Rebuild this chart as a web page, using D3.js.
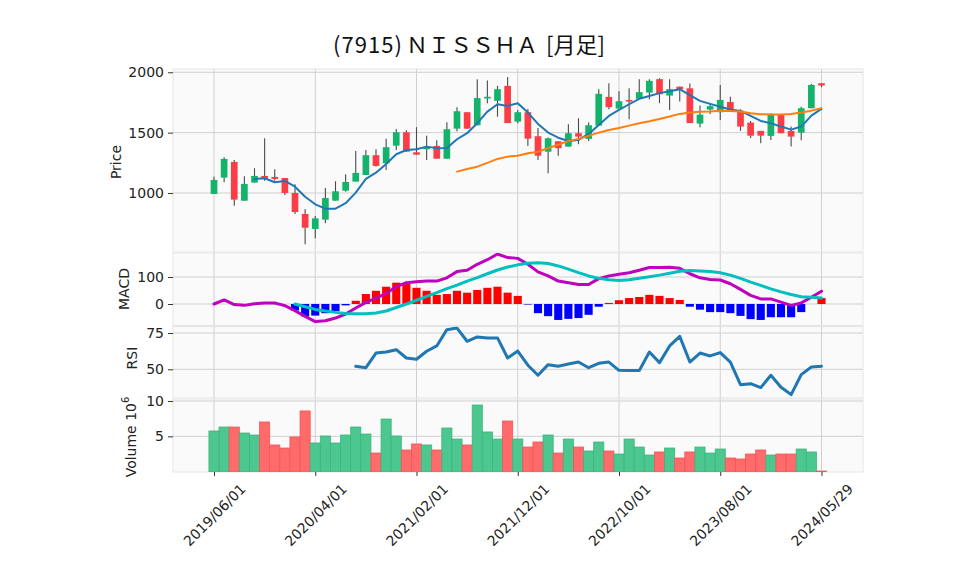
<!DOCTYPE html>
<html><head><meta charset="utf-8">
<script src="https://cdn.jsdelivr.net/npm/d3@7"></script>
<style>body{margin:0;background:#fff}</style>
</head><body>
<svg id="c" width="958" height="575"></svg>
<script>
const titleParts = ["(7915)", "ＮＩＳＳＨＡ", "[月足]"];
const dates = ["2019/06/01","2019/07/01","2019/08/01","2019/09/01","2019/10/01","2019/11/01","2019/12/01",
"2020/01/01","2020/02/01","2020/03/01","2020/04/01","2020/05/01","2020/06/01","2020/07/01","2020/08/01","2020/09/01","2020/10/01","2020/11/01","2020/12/01",
"2021/01/01","2021/02/01","2021/03/01","2021/04/01","2021/05/01","2021/06/01","2021/07/01","2021/08/01","2021/09/01","2021/10/01","2021/11/01","2021/12/01",
"2022/01/01","2022/02/01","2022/03/01","2022/04/01","2022/05/01","2022/06/01","2022/07/01","2022/08/01","2022/09/01","2022/10/01","2022/11/01","2022/12/01",
"2023/01/01","2023/02/01","2023/03/01","2023/04/01","2023/05/01","2023/06/01","2023/07/01","2023/08/01","2023/09/01","2023/10/01","2023/11/01","2023/12/01",
"2024/01/01","2024/02/01","2024/03/01","2024/04/01","2024/05/01","2024/05/29"];
const tickIdx = [0,10,20,30,40,50,60];
const opens  = [992,1127,1257,936,1086,1141,1133,1124,1000,826,702,779,936,1019,1094,1149,1313,1246,1392,1503,1337,1362,1390,1284,1533,1669,1561,1783,1763,1887,1591,1669,1470,1342,1428,1384,1495,1448,1558,1796,1699,1771,1780,1832,1943,1807,1881,1867,1575,1691,1669,1754,1682,1583,1514,1473,1647,1514,1500,1702,1909];
const highs  = [1135,1296,1274,1138,1205,1453,1196,1124,1072,865,809,1041,1097,1155,1348,1356,1362,1450,1530,1520,1545,1475,1437,1586,1710,1669,1943,1932,1887,1960,1688,1696,1539,1460,1430,1570,1619,1586,1860,1909,1843,1868,1943,1943,1951,1943,1881,1906,1724,1744,1895,1798,1694,1597,1514,1661,1647,1550,1715,1903,1909];
const lows   = [992,1089,895,936,1086,1102,1102,983,826,575,624,749,936,1010,1094,1149,1218,1191,1356,1342,1317,1274,1284,1284,1511,1533,1561,1744,1632,1579,1578,1390,1274,1163,1309,1384,1404,1431,1558,1694,1699,1611,1780,1777,1744,1688,1757,1579,1545,1655,1605,1682,1514,1456,1412,1439,1495,1384,1437,1702,1876];
const closes = [1108,1282,945,1075,1141,1122,1116,1000,842,712,790,958,1014,1091,1166,1313,1224,1379,1503,1342,1317,1379,1284,1528,1677,1533,1786,1797,1860,1579,1669,1450,1309,1453,1371,1495,1467,1561,1821,1711,1760,1757,1835,1929,1818,1860,1860,1579,1649,1719,1771,1682,1550,1475,1475,1647,1495,1467,1702,1895,1890];
const ma5 = [null,null,null,null,1116,1122,1089,1100,1052,969,906,870,870,915,1003,1116,1168,1240,1321,1356,1362,1384,1371,1373,1445,1495,1578,1674,1735,1721,1744,1666,1572,1500,1458,1431,1439,1489,1564,1638,1688,1735,1780,1804,1827,1843,1860,1810,1763,1738,1715,1691,1680,1638,1597,1578,1550,1525,1550,1641,1696];
const ma25 = [null,null,null,null,null,null,null,null,null,null,null,null,null,null,null,null,null,null,null,null,null,null,null,null,1177,1199,1218,1249,1282,1301,1309,1329,1342,1372,1400,1431,1448,1473,1500,1522,1539,1558,1578,1594,1613,1633,1655,1666,1672,1674,1682,1680,1674,1661,1652,1650,1650,1655,1666,1682,1702];
const macd = [0,15,-2,-5,1,4,4,-6,-25,-46,-65,-62,-52,-37,-15,6,22,39,64,79,82,85,85,97,120,125,147,164,185,172,169,147,119,104,85,79,72,72,94,104,110,116,125,135,135,136,132,112,97,91,89,75,54,32,19,19,7,-5,4,25,47];
const signal = [null,null,null,null,null,null,null,null,0,-10,-20,-26,-31,-35,-36,-36,-33,-26,-13,0,14,28,42,57,70,85,98,112,126,137,145,151,153,150,141,129,116,104,95,90,87,90,95,101,107,114,121,124,122,120,116,107,95,81,69,56,45,35,27,25,22];
const hist = [null,null,null,null,null,null,null,null,-24,-46,-43,-34,-26,-5,12,37,49,64,79,75,60,49,34,37,49,42,52,60,64,42,30,-2,-34,-45,-59,-55,-52,-40,-10,4,14,22,26,34,30,22,15,-10,-21,-30,-30,-34,-44,-56,-59,-49,-49,-49,-30,0,22];
const rsi = [null,null,null,null,null,null,null,null,null,null,null,null,null,null,52.1,51.1,61.2,61.9,63.5,57.8,56.9,62.4,66.1,77.3,78.4,69.3,72.3,71.6,71.6,57.8,62.6,52.8,45.9,53.2,52.1,53.7,55.0,51.1,54.1,55.0,49.3,49.1,49.1,61.9,54.6,66.1,72.7,55.0,61.2,59.2,61.5,55.0,39.4,40.1,37.4,45.9,37.6,32.6,46.3,51.6,52.1];
const volume = [5.76,6.32,6.32,5.47,5.19,7.03,3.78,3.35,4.91,8.59,4.06,5.05,4.06,5.19,6.32,5.33,2.64,7.45,5.05,3.07,3.92,3.78,3.07,6.18,4.62,3.78,9.43,5.62,4.62,7.17,4.62,3.49,4.2,5.19,2.64,4.62,3.49,2.93,4.2,2.93,2.5,4.62,3.49,2.36,2.79,3.35,1.94,2.79,3.49,2.64,3.21,1.94,1.8,2.5,3.07,2.36,2.5,2.5,3.21,2.79,0.1];
const volUp = [1,1,0,1,1,0,0,0,0,0,1,1,1,1,1,1,0,1,1,0,0,1,0,1,1,0,1,1,1,0,1,0,0,1,0,1,0,1,1,0,1,1,1,1,0,1,0,0,1,1,1,0,0,0,0,1,0,0,1,1,0];
const priceTicks = [1000,1500,2000];
const macdTicks = [0,100];
const rsiTicks = [50,75];
const volTicks = [5,10];

const svg = d3.select("#c");
const FONT = "DejaVu Sans, sans-serif";
svg.append("rect").attr("width",958).attr("height",575).attr("fill","#fff");

const x = d3.scaleLinear().domain([-4.05, 64.1]).range([173, 863]);
const step = x(1) - x(0);
const X0 = 173, X1 = 863;

function makePanel(id, top, bottom, domain, ticks) {
  const y = d3.scaleLinear().domain(domain).range([bottom, top]);
  const g = svg.append("g");
  g.append("rect").attr("x",X0).attr("y",top).attr("width",X1-X0).attr("height",bottom-top)
    .attr("fill","#fafafa").attr("stroke","#e6e6e6").attr("stroke-width",1);
  g.append("defs").append("clipPath").attr("id","clip-"+id)
    .append("rect").attr("x",X0).attr("y",top).attr("width",X1-X0).attr("height",bottom-top);
  g.selectAll("line.vg").data(tickIdx).join("line")
    .attr("x1",d=>x(d)).attr("x2",d=>x(d)).attr("y1",top).attr("y2",bottom)
    .attr("stroke","#d0d0d0").attr("stroke-width",1);
  g.selectAll("line.hg").data(ticks).join("line")
    .attr("x1",X0).attr("x2",X1).attr("y1",d=>y(d)).attr("y2",d=>y(d))
    .attr("stroke","#d0d0d0").attr("stroke-width",1);
  const ax = g.append("g").attr("transform",`translate(${X0},0)`)
    .call(d3.axisLeft(y).tickValues(ticks).tickSize(5).tickPadding(4).tickFormat(d3.format("d")));
  ax.select(".domain").remove();
  ax.selectAll("line").attr("stroke","#333");
  ax.selectAll("text").attr("font-family",FONT).attr("font-size",14).attr("fill","#222");
  const plot = svg.append("g").attr("clip-path",`url(#clip-${id})`);
  return {y, g, plot, top, bottom};
}

const P = makePanel("price", 69, 252, [511, 2027], priceTicks);
const M = makePanel("macd", 253, 325.5, [-79.6, 188.9], macdTicks);
const R = makePanel("rsi", 326.5, 398, [30.23, 79.48], rsiTicks);
const V = makePanel("vol", 399, 472, [-0.04, 10.28], volTicks);

function ylab(txt, cx, cy) {
  return svg.append("text").attr("transform",`translate(${cx},${cy}) rotate(-90)`)
    .attr("text-anchor","middle").attr("dominant-baseline","central")
    .attr("font-family",FONT).attr("font-size",14).attr("fill","#222").text(txt);
}
ylab("Price", 116, 162);
ylab("MACD", 124, 289);
ylab("RSI", 132, 358);
const vl = ylab("Volume  10", 131, 437);
vl.append("tspan").attr("baseline-shift","super").attr("font-size",10).text("6");

// candles
const idx = d3.range(opens.length);
const UP = "#13b36b", DN = "#fc3d46";
P.plot.selectAll("line.wick").data(idx).join("line")
  .attr("x1",i=>x(i)).attr("x2",i=>x(i))
  .attr("y1",i=>P.y(highs[i])).attr("y2",i=>P.y(lows[i]))
  .attr("stroke","#4a4a4a").attr("stroke-width",1.1);
const bw = step*0.66;
P.plot.selectAll("rect.body").data(idx).join("rect")
  .attr("x",i=>x(i)-bw/2).attr("width",bw)
  .attr("y",i=>P.y(Math.max(opens[i],closes[i])))
  .attr("height",i=>Math.max(1.2, Math.abs(P.y(opens[i])-P.y(closes[i]))))
  .attr("fill",i=>closes[i]>=opens[i]?UP:DN);

function drawLine(panel, arr, color, w) {
  const line = d3.line().defined(d=>d!=null).x((d,i)=>x(i)).y(d=>panel.y(d));
  panel.plot.append("path").datum(arr).attr("d",line).attr("fill","none")
    .attr("stroke",color).attr("stroke-width",w).attr("stroke-linejoin","round").attr("stroke-linecap","round");
}
drawLine(P, ma5, "#1f77b4", 2);
drawLine(P, ma25, "#ff7f0e", 2);

const hw = step*0.8;
M.plot.selectAll("rect.h").data(idx.filter(i=>hist[i]!=null)).join("rect")
  .attr("x",i=>x(i)-hw/2).attr("width",hw)
  .attr("y",i=>M.y(Math.max(0,hist[i])))
  .attr("height",i=>Math.abs(M.y(hist[i])-M.y(0)))
  .attr("fill",i=>hist[i]>=0?"#ff0000":"#0000ff");
drawLine(M, macd, "#bf00bf", 3);
drawLine(M, signal, "#00bfbf", 3);

drawLine(R, rsi, "#1f77b4", 3);

V.plot.selectAll("rect.v").data(idx).join("rect")
  .attr("x",i=>x(i)-step/2).attr("width",step)
  .attr("y",i=>V.y(volume[i]))
  .attr("height",i=>V.y(0)-V.y(volume[i]))
  .attr("fill",i=>volUp[i]?"#4bc78f":"#ff6b6b")
  .attr("stroke",i=>volUp[i]?"#3bb47c":"#f25555").attr("stroke-width",0.8);

const xa = svg.append("g").attr("transform",`translate(0,472)`)
  .call(d3.axisBottom(x).tickValues(tickIdx).tickSize(4).tickFormat(i=>dates[i]));
xa.select(".domain").remove();
xa.selectAll("line").attr("stroke","#333");
xa.selectAll("text").attr("y",0).attr("dy",null)
  .attr("transform","translate(0,43) rotate(-45)")
  .attr("text-anchor","middle").attr("dominant-baseline","central")
  .attr("font-family",FONT).attr("font-size",14).attr("fill","#222");

// title
const tt = svg.append("text").attr("y",53)
  .attr("font-family","Noto Sans CJK JP, sans-serif").attr("font-size",22).attr("fill","#111");
const titleX = [333, 406, 546];
titleParts.forEach((s,k)=>{
  const sp = tt.append("tspan").attr("x",titleX[k]).text(s);
  if (k===0) sp.attr("textLength",69).attr("lengthAdjust","spacing");
});
</script>
</body></html>
